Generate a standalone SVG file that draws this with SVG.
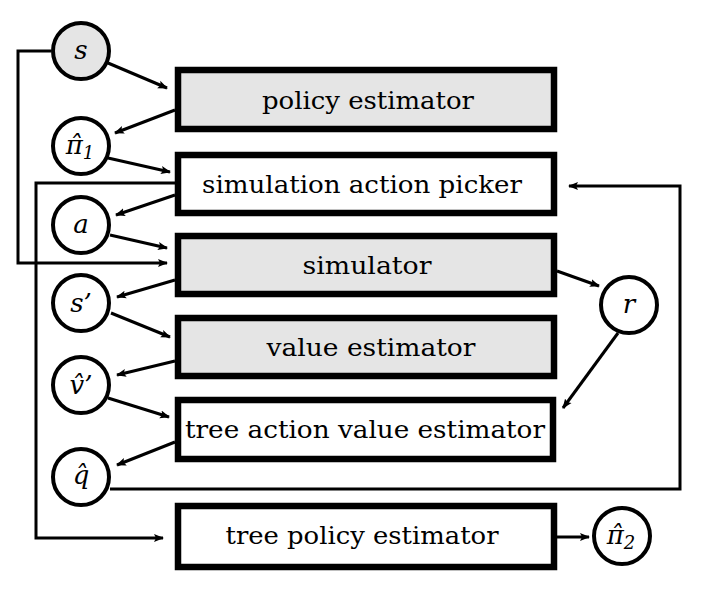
<svg xmlns="http://www.w3.org/2000/svg" width="707" height="594" viewBox="0 0 707 594">
<style>
.box{stroke:#000;stroke-width:6.5;}
.gray{fill:#e5e5e5;}
.white{fill:#fff;}
.circ{stroke:#000;stroke-width:4;}
.lbl{font-family:"DejaVu Serif Condensed","DejaVu Serif","Liberation Serif",serif;font-stretch:condensed;font-size:25px;fill:#000;text-anchor:middle;}
.var{font-family:"DejaVu Serif","Liberation Serif",serif;font-style:italic;font-size:26px;fill:#000;text-anchor:middle;}
.sub{font-size:18px;}
.con{fill:none;stroke:#000;stroke-width:3;}
</style>
<defs>
<marker id="ah" markerUnits="userSpaceOnUse" markerWidth="10" markerHeight="10" viewBox="0 0 10 10" refX="9" refY="5" orient="auto">
<path d="M0,1 L10,5 L0,9 L2,5 z" fill="#000"/>
</marker>
</defs>
<rect width="707" height="594" fill="#fff"/>
<g id="connectors">
<line class="con" x1="108" y1="63" x2="167" y2="88" marker-end="url(#ah)"/>
<line class="con" x1="175" y1="110" x2="115" y2="133" marker-end="url(#ah)"/>
<line class="con" x1="108" y1="158" x2="170" y2="172" marker-end="url(#ah)"/>
<line class="con" x1="175" y1="195" x2="116" y2="215" marker-end="url(#ah)"/>
<line class="con" x1="110" y1="235" x2="167" y2="248" marker-end="url(#ah)"/>
<path class="con" d="M51,51 H18 V263 H167" marker-end="url(#ah)"/>
<line class="con" x1="175" y1="280" x2="117" y2="297" marker-end="url(#ah)"/>
<line class="con" x1="111" y1="313" x2="170" y2="337" marker-end="url(#ah)"/>
<line class="con" x1="175" y1="361" x2="117" y2="375" marker-end="url(#ah)"/>
<line class="con" x1="108" y1="398" x2="169" y2="417" marker-end="url(#ah)"/>
<line class="con" x1="175" y1="442" x2="117" y2="465" marker-end="url(#ah)"/>
<path class="con" d="M176,183 H36 V538 H163" marker-end="url(#ah)"/>
<path class="con" d="M110,489 H680 V186 H569" marker-end="url(#ah)"/>
<line class="con" x1="557" y1="271" x2="599" y2="286" marker-end="url(#ah)"/>
<line class="con" x1="618" y1="333" x2="563" y2="408" marker-end="url(#ah)"/>
<line class="con" x1="557" y1="537" x2="589" y2="537" marker-end="url(#ah)"/>
</g>
<g id="policy-estimator">
<rect class="box gray" x="178" y="70" width="376" height="59"/>
<text class="lbl" x="368" y="109" textLength="212" lengthAdjust="spacingAndGlyphs">policy estimator</text>
</g>
<g id="simulation-action-picker">
<rect class="box white" x="178" y="155" width="376" height="58"/>
<text class="lbl" x="362" y="193" textLength="320" lengthAdjust="spacingAndGlyphs">simulation action picker</text>
</g>
<g id="simulator">
<rect class="box gray" x="178" y="236" width="376" height="58"/>
<text class="lbl" x="367" y="274" textLength="129" lengthAdjust="spacingAndGlyphs">simulator</text>
</g>
<g id="value-estimator">
<rect class="box gray" x="178" y="318" width="376" height="58"/>
<text class="lbl" x="371" y="356" textLength="209" lengthAdjust="spacingAndGlyphs">value estimator</text>
</g>
<g id="tree-action-value-estimator">
<rect class="box white" x="178" y="400" width="375" height="59"/>
<text class="lbl" x="365" y="438" textLength="360" lengthAdjust="spacingAndGlyphs">tree action value estimator</text>
</g>
<g id="tree-policy-estimator">
<rect class="box white" x="178" y="506" width="376" height="61"/>
<text class="lbl" x="362" y="544" textLength="273" lengthAdjust="spacingAndGlyphs">tree policy estimator</text>
</g>
<g id="s">
<circle class="circ gray" cx="81" cy="51" r="28"/>
<text class="var" x="81" y="59">s</text>
</g>
<g id="pi1">
<circle class="circ white" cx="81" cy="146" r="28"/>
<text class="var" x="80" y="154">π̂<tspan class="sub" dy="5">1</tspan></text>
</g>
<g id="a">
<circle class="circ white" cx="81" cy="225" r="28"/>
<text class="var" x="81" y="233">a</text>
</g>
<g id="s-prime">
<circle class="circ white" cx="81" cy="303" r="28"/>
<text class="var" x="81" y="312">s’</text>
</g>
<g id="v-prime">
<circle class="circ white" cx="81" cy="385" r="28"/>
<text class="var" x="81" y="394">v̂’</text>
</g>
<g id="q">
<circle class="circ white" cx="81" cy="477" r="28"/>
<text class="var" x="81" y="484">q̂</text>
</g>
<g id="r">
<circle class="circ white" cx="629" cy="305" r="28"/>
<text class="var" x="629" y="313">r</text>
</g>
<g id="pi2">
<circle class="circ white" cx="622" cy="536" r="28"/>
<text class="var" x="621" y="544">π̂<tspan class="sub" dy="5">2</tspan></text>
</g>
</svg>
